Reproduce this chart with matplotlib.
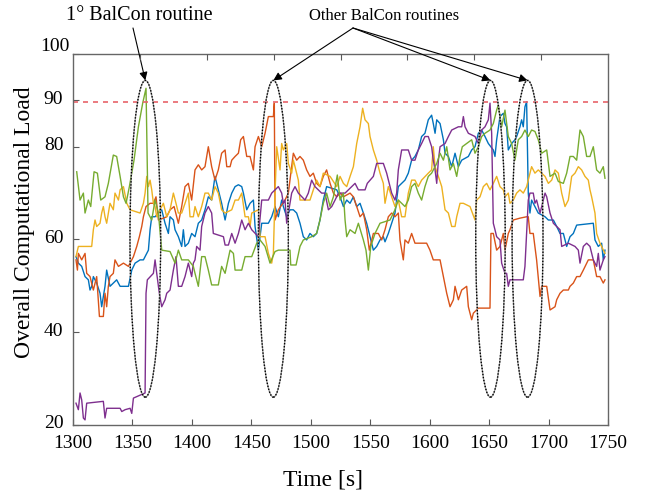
import numpy as np
import matplotlib.pyplot as plt
from matplotlib.patches import Ellipse
import matplotlib.transforms as mtransforms

plt.rcParams['font.family'] = ['Liberation Serif', 'DejaVu Serif']

# series: (time [s], load)
t_blue = [1302.5, 1304.5, 1307.3, 1310.1, 1312.9, 1314.3, 1315.7, 1317.1, 1319.9, 1322.7, 1324.1, 1326.9, 1328.3,
          1331.1, 1333.9, 1336.7, 1339.6, 1346.6, 1349.4, 1352.2, 1356.4, 1359.2, 1362.0, 1363.4, 1364.8, 1366.2,
          1369.0, 1371.8, 1374.6, 1377.4, 1380.2, 1381.6, 1384.4, 1385.8, 1388.6, 1391.4, 1392.8, 1394.2, 1397.0,
          1399.8, 1402.6, 1405.4, 1408.2, 1411.0, 1413.8, 1416.6, 1419.4, 1422.2, 1425.0, 1427.9, 1430.7, 1433.5,
          1436.3, 1439.1, 1441.9, 1443.3, 1446.1, 1448.9, 1451.7, 1453.1, 1455.9, 1458.7, 1464.3, 1467.1, 1469.9,
          1472.7, 1475.5, 1476.9, 1479.7, 1482.5, 1485.3, 1488.1, 1490.9, 1493.7, 1496.5, 1499.3, 1502.1, 1504.9,
          1507.7, 1510.5, 1513.3, 1521.8, 1524.6, 1527.4, 1530.2, 1533.0, 1535.8, 1538.6, 1541.4, 1544.2, 1547.0,
          1549.8, 1552.6, 1555.4, 1558.2, 1561.0, 1562.4, 1565.2, 1568.0, 1570.8, 1573.6, 1579.2, 1582.0, 1584.8,
          1587.6, 1590.4, 1593.2, 1596.0, 1598.8, 1601.6, 1603.0, 1604.5, 1605.9, 1608.7, 1611.5, 1612.9, 1615.7,
          1618.5, 1621.3, 1624.1, 1626.9, 1632.5, 1635.3, 1638.1, 1640.9, 1643.7, 1646.5, 1649.3, 1653.5, 1654.9,
          1656.3, 1659.1, 1661.9, 1663.3, 1664.7, 1666.1, 1668.9, 1671.7, 1673.1, 1675.9, 1677.3, 1678.7, 1680.1,
          1681.5, 1682.9, 1684.3, 1685.7, 1688.5, 1691.3, 1697.0, 1699.8, 1704.0, 1706.8, 1709.6, 1712.4, 1715.2,
          1718.0, 1720.8, 1723.6, 1737.6, 1739.0, 1741.8, 1744.6, 1746.0, 1747.4]
v_blue = [56.3, 54.9, 54.2, 52.0, 51.3, 49.1, 49.9, 52.0, 50.6, 48.4, 45.5, 49.9, 53.4,
          49.9, 50.6, 51.3, 49.9, 49.9, 53.4, 54.9, 55.6, 55.6, 57.0, 57.7, 62.1, 64.9,
          64.9, 65.7, 66.4, 63.5, 61.3, 64.9, 64.2, 62.1, 60.6, 58.5, 62.1, 58.5, 59.2,
          61.3, 60.6, 63.5, 64.2, 66.4, 69.2, 68.5, 73.6, 70.7, 67.8, 64.2, 67.8, 70.0,
          71.4, 71.8, 71.4, 70.0, 66.4, 67.8, 68.5, 62.8, 57.7, 63.5, 63.5, 64.9, 67.1,
          64.9, 68.5, 67.1, 64.9, 66.4, 66.4, 65.7, 63.5, 60.6, 59.9, 61.3, 60.6, 61.3,
          64.2, 68.5, 71.4, 70.7, 69.2, 67.1, 68.5, 67.8, 69.2, 67.1, 67.8, 65.7, 63.5,
          60.6, 57.7, 58.5, 59.9, 60.6, 59.5, 61.3, 63.5, 65.7, 71.4, 72.8, 74.3, 77.1,
          77.9, 79.3, 82.2, 82.9, 85.8, 86.8, 85.0, 82.9, 85.8, 85.0, 81.5, 78.6, 77.9,
          75.7, 78.6, 75.7, 77.1, 77.9, 79.3, 80.0, 82.9, 83.6, 82.2, 80.7, 79.3, 77.9,
          81.5, 86.5, 87.2, 85.0, 84.3, 79.3, 80.7, 81.5, 82.2, 84.3, 85.8, 84.3, 88.6,
          89.7, 70.0, 65.7, 68.5, 67.1, 65.7, 64.9, 64.2, 64.2, 62.8, 61.3, 61.3, 58.5,
          60.6, 61.3, 63.1, 63.5, 59.9, 58.5, 59.2, 55.6, 57.7]

t_red = [1302.5, 1303.7, 1304.5, 1307.3, 1310.1, 1311.5, 1314.3, 1317.1, 1319.9, 1322.2, 1325.5, 1326.9, 1328.3,
         1329.7, 1331.1, 1333.9, 1335.3, 1338.2, 1342.4, 1346.6, 1350.8, 1353.6, 1355.8, 1357.8, 1359.2, 1361.4,
         1364.8, 1367.6, 1369.8, 1371.8, 1376.0, 1378.8, 1381.6, 1385.0, 1387.2, 1388.6, 1391.4, 1394.2, 1397.0,
         1399.8, 1402.6, 1405.4, 1408.2, 1411.0, 1413.8, 1416.6, 1419.4, 1422.2, 1425.0, 1427.9, 1429.3, 1432.1,
         1433.5, 1436.3, 1439.1, 1441.0, 1443.3, 1446.1, 1448.9, 1451.7, 1453.1, 1455.9, 1458.7, 1461.5, 1464.3,
         1468.5, 1469.3, 1469.9, 1472.7, 1478.3, 1481.1, 1483.9, 1485.3, 1488.1, 1490.9, 1493.7, 1496.5, 1499.3,
         1502.1, 1504.9, 1507.7, 1510.5, 1513.3, 1516.2, 1519.0, 1521.8, 1524.6, 1527.4, 1533.0, 1535.8, 1538.6,
         1541.4, 1544.2, 1547.0, 1549.2, 1552.6, 1556.8, 1559.6, 1562.4, 1565.2, 1568.0, 1570.8, 1573.6, 1575.0,
         1577.8, 1579.2, 1582.0, 1584.8, 1587.6, 1597.4, 1600.2, 1603.0, 1608.7, 1611.5, 1614.3, 1617.1, 1619.9,
         1621.3, 1624.1, 1626.9, 1631.1, 1632.5, 1635.3, 1636.7, 1640.9, 1650.7, 1651.5, 1653.5, 1656.3, 1659.1,
         1661.9, 1663.3, 1666.1, 1667.5, 1670.3, 1675.9, 1681.5, 1682.9, 1684.3, 1687.1, 1689.9, 1692.8, 1694.2,
         1698.4, 1701.2, 1705.4, 1706.8, 1709.6, 1712.4, 1716.6, 1718.0, 1720.8, 1723.6, 1726.4, 1729.2, 1733.4,
         1737.6, 1740.4, 1743.2, 1746.0, 1747.4]
v_red = [55.6, 53.4, 57.0, 55.6, 57.0, 52.7, 52.0, 49.1, 52.0, 43.4, 43.4, 48.4, 45.5,
         49.9, 52.0, 52.7, 55.6, 54.2, 54.9, 54.2, 56.3, 58.5, 60.6, 62.8, 64.9, 67.1,
         67.8, 67.8, 69.2, 64.2, 64.6, 64.9, 66.4, 67.1, 64.9, 63.5, 67.1, 71.4, 72.1,
         68.5, 75.0, 76.1, 75.0, 75.7, 80.0, 75.7, 72.8, 75.0, 78.6, 79.3, 75.7, 75.7,
         77.1, 77.9, 78.6, 81.5, 82.2, 77.9, 77.9, 75.0, 80.0, 82.2, 80.0, 82.9, 86.5,
         86.5, 89.4, 64.2, 66.4, 68.5, 70.0, 75.7, 78.6, 77.1, 77.9, 77.1, 75.0, 73.6,
         74.3, 72.1, 71.4, 73.6, 75.0, 72.1, 70.0, 69.2, 70.0, 69.2, 70.0, 69.2, 67.1,
         64.9, 65.7, 62.1, 57.7, 61.3, 61.3, 59.9, 62.1, 64.9, 65.7, 64.9, 65.7, 59.9,
         55.6, 59.9, 59.2, 61.3, 59.2, 59.2, 57.7, 55.6, 55.6, 52.0, 48.4, 45.5, 47.0,
         49.9, 47.0, 49.1, 49.9, 45.5, 42.7, 44.1, 45.2, 45.2, 61.3, 61.3, 57.7, 58.5,
         61.3, 57.7, 61.3, 62.1, 64.2, 64.6, 64.9, 64.9, 61.3, 61.3, 55.6, 47.7, 49.9,
         49.9, 44.8, 45.5, 47.0, 48.4, 49.1, 49.1, 49.9, 50.6, 52.0, 52.0, 53.4, 55.6,
         55.6, 52.0, 52.0, 50.6, 51.3]

t_yellow = [1302.5, 1304.5, 1315.7, 1317.1, 1318.5, 1319.9, 1322.7, 1324.1, 1325.5, 1326.9, 1328.3, 1331.1, 1333.9,
            1335.3, 1338.2, 1339.6, 1342.4, 1345.2, 1348.0, 1356.4, 1359.2, 1360.6, 1362.0, 1363.4, 1364.8, 1366.2,
            1367.6, 1369.0, 1370.4, 1373.2, 1376.0, 1378.8, 1381.6, 1384.4, 1386.6, 1388.6, 1391.4, 1394.2, 1397.0,
            1398.4, 1401.2, 1402.6, 1405.4, 1408.2, 1411.0, 1413.8, 1416.6, 1419.4, 1422.2, 1425.0, 1427.9, 1433.5,
            1436.3, 1439.1, 1441.9, 1444.7, 1447.5, 1448.9, 1450.3, 1455.9, 1457.3, 1461.5, 1464.3, 1467.1, 1468.5,
            1469.9, 1471.3, 1474.1, 1475.5, 1476.9, 1479.7, 1481.1, 1483.9, 1485.3, 1486.7, 1489.5, 1490.9, 1499.3,
            1502.1, 1504.9, 1507.7, 1510.5, 1516.2, 1521.8, 1524.6, 1527.4, 1530.2, 1533.0, 1535.8, 1538.6, 1541.4,
            1543.6, 1545.6, 1548.4, 1549.8, 1552.6, 1555.4, 1558.2, 1561.0, 1562.4, 1565.2, 1568.0, 1570.8, 1573.6,
            1576.4, 1579.2, 1582.0, 1584.8, 1587.6, 1590.4, 1593.2, 1598.8, 1601.6, 1603.0, 1604.5, 1607.3, 1610.1,
            1612.9, 1615.7, 1618.5, 1621.3, 1622.7, 1625.5, 1628.3, 1633.9, 1635.9, 1638.1, 1639.5, 1642.3, 1645.1,
            1647.9, 1650.7, 1653.5, 1656.3, 1659.1, 1661.9, 1663.3, 1666.1, 1667.5, 1670.3, 1673.1, 1675.9, 1678.7,
            1681.5, 1684.3, 1685.7, 1688.5, 1691.3, 1694.2, 1697.0, 1699.8, 1702.6, 1705.4, 1708.2, 1711.0, 1713.8,
            1716.6, 1719.4, 1722.2, 1725.0, 1727.8, 1730.6, 1733.4, 1734.8, 1736.2, 1739.0, 1740.4, 1743.2, 1746.0,
            1747.4]
v_yellow = [56.3, 58.5, 58.5, 62.1, 64.2, 62.8, 63.5, 65.7, 67.1, 64.9, 63.5, 67.8, 66.4,
            70.0, 68.5, 70.7, 71.4, 67.8, 66.4, 65.7, 67.8, 70.0, 73.6, 71.4, 72.8, 70.7,
            67.8, 67.1, 64.9, 66.4, 67.8, 64.9, 66.4, 70.0, 67.8, 65.7, 65.7, 67.8, 70.0,
            64.9, 64.9, 67.1, 64.9, 67.1, 70.0, 70.0, 68.5, 71.4, 70.0, 66.4, 65.7, 66.4,
            68.5, 68.5, 70.0, 64.9, 64.9, 62.8, 65.7, 66.4, 60.6, 60.6, 57.0, 54.9, 57.0,
            70.0, 80.0, 75.0, 80.7, 79.3, 80.7, 76.4, 74.3, 77.1, 75.7, 72.8, 68.5, 68.5,
            70.7, 72.8, 71.4, 74.3, 73.6, 71.4, 73.6, 72.1, 71.4, 73.6, 75.7, 80.7, 84.3,
            88.3, 85.8, 85.0, 82.2, 79.3, 77.1, 74.3, 72.1, 67.8, 71.4, 69.2, 67.1, 68.5,
            64.9, 64.9, 70.0, 72.8, 72.8, 71.4, 72.8, 74.3, 75.0, 80.0, 75.7, 73.6, 71.4,
            66.4, 65.7, 62.8, 62.8, 64.9, 67.8, 67.8, 67.1, 65.7, 64.2, 68.5, 69.2, 71.4,
            72.1, 70.7, 72.1, 73.6, 71.4, 70.7, 69.2, 70.0, 67.8, 68.5, 70.0, 70.7, 70.0,
            71.4, 74.3, 75.7, 74.3, 75.0, 74.3, 73.6, 72.1, 72.8, 75.0, 74.3, 70.0, 67.1,
            68.5, 73.6, 74.3, 75.7, 75.0, 73.6, 72.8, 70.7, 69.2, 65.7, 61.3, 59.2, 57.7,
            57.0]

t_purple = [1302.5, 1304.5, 1305.9, 1307.3, 1308.7, 1310.1, 1311.5, 1325.5, 1326.1, 1326.9, 1328.3, 1339.6, 1341.0,
            1343.8, 1348.0, 1349.4, 1350.8, 1360.6, 1361.4, 1362.5, 1367.6, 1369.0, 1370.4, 1372.6, 1374.6, 1377.4,
            1378.8, 1381.6, 1384.4, 1386.6, 1388.6, 1391.4, 1394.2, 1397.0, 1399.8, 1401.2, 1402.6, 1404.0, 1406.8,
            1408.2, 1411.0, 1413.8, 1416.6, 1418.0, 1426.5, 1427.9, 1430.7, 1433.5, 1436.3, 1439.1, 1441.9, 1444.7,
            1447.5, 1450.3, 1455.9, 1458.7, 1464.3, 1467.1, 1469.9, 1472.7, 1475.5, 1476.9, 1478.3, 1479.7, 1481.1,
            1483.9, 1486.7, 1489.5, 1495.1, 1497.9, 1500.7, 1503.5, 1509.1, 1511.9, 1514.8, 1517.6, 1520.4, 1523.2,
            1528.8, 1534.4, 1537.2, 1540.0, 1545.6, 1547.5, 1552.6, 1555.4, 1561.0, 1563.8, 1566.6, 1568.0, 1570.8,
            1572.2, 1573.6, 1575.0, 1576.4, 1582.0, 1584.8, 1587.6, 1590.4, 1593.2, 1596.0, 1598.8, 1601.6, 1603.0,
            1604.5, 1605.9, 1607.3, 1608.7, 1612.9, 1615.7, 1618.5, 1624.1, 1626.9, 1628.3, 1629.7, 1632.5, 1638.1,
            1640.9, 1643.7, 1646.5, 1649.3, 1650.7, 1652.1, 1653.5, 1654.9, 1656.3, 1659.1, 1660.5, 1663.3, 1664.7,
            1666.1, 1667.5, 1678.7, 1680.1, 1681.5, 1682.9, 1684.3, 1687.1, 1688.5, 1689.9, 1691.3, 1692.8, 1694.2,
            1697.0, 1698.4, 1701.2, 1704.0, 1706.8, 1709.6, 1711.0, 1716.6, 1722.2, 1725.0, 1726.4, 1729.2, 1732.0,
            1734.8, 1737.6, 1740.4, 1741.8, 1743.2, 1746.0, 1747.4]
v_purple = [24.7, 23.3, 26.9, 25.4, 21.5, 21.1, 24.7, 25.1, 23.6, 21.5, 23.6, 23.6, 22.9,
            23.3, 23.6, 22.5, 25.8, 26.9, 48.4, 51.3, 52.7, 55.6, 52.7, 48.4, 45.5, 47.0,
            48.4, 49.1, 53.4, 56.3, 49.9, 49.9, 52.0, 54.9, 52.0, 54.9, 55.6, 58.5, 57.7,
            62.8, 65.7, 67.1, 65.7, 61.3, 60.6, 58.8, 58.8, 61.3, 59.2, 61.3, 64.2, 62.1,
            63.5, 62.1, 60.6, 68.5, 68.5, 70.0, 70.7, 71.4, 70.0, 67.8, 68.5, 63.5, 65.7,
            70.0, 71.4, 70.0, 68.5, 70.0, 72.8, 71.4, 70.0, 70.0, 66.4, 67.1, 68.5, 70.0,
            70.0, 71.4, 72.1, 70.7, 70.7, 72.1, 73.6, 76.4, 76.4, 74.3, 71.4, 70.0, 68.5,
            70.0, 75.0, 77.1, 79.3, 79.3, 77.1, 77.1, 79.3, 80.7, 82.2, 82.2, 80.0, 77.1,
            75.0, 72.1, 77.1, 80.0, 80.7, 82.2, 83.6, 84.3, 84.3, 86.5, 84.3, 82.9, 82.2,
            80.7, 83.6, 84.3, 85.8, 89.4, 82.9, 63.5, 62.1, 60.6, 59.9, 54.9, 52.7, 52.7,
            49.9, 51.3, 51.3, 54.2, 61.3, 68.5, 70.0, 70.0, 67.8, 68.5, 67.1, 65.7, 67.1,
            70.0, 69.2, 65.7, 63.5, 62.8, 62.1, 58.5, 59.2, 58.5, 57.7, 54.9, 58.5, 59.2,
            58.5, 55.6, 54.2, 57.0, 53.4, 55.6, 56.3]

t_green = [1303.1, 1305.9, 1308.7, 1310.1, 1312.9, 1314.9, 1317.7, 1320.5, 1323.3, 1326.9, 1329.7, 1331.7, 1333.9,
           1336.7, 1339.6, 1342.4, 1344.6, 1347.4, 1351.3, 1355.0, 1358.6, 1361.4, 1363.1, 1366.2, 1369.0, 1371.8,
           1374.6, 1381.6, 1385.8, 1388.6, 1391.4, 1397.0, 1401.2, 1402.6, 1405.4, 1408.2, 1411.0, 1413.8, 1416.6,
           1422.2, 1425.0, 1427.9, 1432.1, 1434.9, 1436.3, 1441.9, 1444.7, 1450.3, 1454.5, 1457.3, 1461.5, 1465.7,
           1469.9, 1472.7, 1482.5, 1483.1, 1487.6, 1490.9, 1493.7, 1500.7, 1504.9, 1507.7, 1510.5, 1513.3, 1516.2,
           1519.0, 1522.3, 1524.6, 1527.4, 1528.8, 1530.2, 1533.0, 1537.2, 1540.0, 1544.2, 1546.4, 1548.4, 1550.4,
           1554.0, 1558.2, 1566.6, 1570.8, 1573.6, 1576.4, 1579.2, 1582.0, 1584.8, 1587.6, 1590.4, 1593.2, 1596.0,
           1598.8, 1601.6, 1605.9, 1608.7, 1611.5, 1614.3, 1617.1, 1619.9, 1622.7, 1625.5, 1627.4, 1631.1, 1635.3,
           1638.1, 1640.9, 1643.7, 1646.5, 1650.7, 1653.5, 1656.3, 1657.7, 1660.5, 1663.3, 1666.1, 1668.9, 1671.7,
           1674.5, 1677.3, 1680.1, 1682.9, 1685.7, 1688.5, 1691.3, 1694.2, 1698.4, 1701.2, 1705.4, 1708.2, 1712.4,
           1715.2, 1718.0, 1720.8, 1723.6, 1726.4, 1729.2, 1732.0, 1734.8, 1737.6, 1740.4, 1743.2, 1746.0, 1747.4]
v_green = [74.6, 68.5, 70.0, 65.7, 68.5, 67.1, 74.6, 74.3, 68.5, 69.2, 72.1, 75.0, 78.2,
           77.9, 73.6, 69.2, 67.8, 71.4, 77.1, 84.3, 89.4, 92.6, 65.7, 64.2, 68.5, 65.7,
           57.7, 57.4, 54.9, 57.7, 55.6, 55.6, 54.2, 52.7, 49.9, 56.3, 56.3, 53.4, 50.2,
           50.2, 54.2, 52.7, 57.7, 57.0, 53.4, 53.4, 56.3, 56.3, 59.2, 59.9, 58.5, 54.9,
           57.4, 57.7, 57.7, 54.5, 54.5, 58.5, 59.9, 60.6, 61.3, 64.2, 67.8, 70.0, 67.1,
           69.2, 73.9, 68.5, 70.0, 64.2, 60.6, 62.1, 61.3, 63.5, 59.9, 57.7, 53.4, 58.5,
           61.3, 63.5, 64.2, 66.4, 68.5, 67.8, 67.1, 68.5, 71.4, 72.1, 70.0, 68.5, 71.4,
           73.6, 74.3, 76.4, 78.6, 77.1, 80.0, 75.0, 76.4, 73.6, 77.9, 80.0, 80.7, 81.5,
           78.6, 80.0, 82.2, 82.9, 83.6, 85.0, 87.9, 89.0, 84.3, 87.9, 82.2, 80.7, 77.1,
           81.5, 82.2, 83.6, 82.2, 83.6, 83.3, 81.5, 78.6, 79.3, 73.6, 74.3, 72.5, 72.1,
           74.3, 77.9, 77.9, 77.1, 83.6, 82.2, 77.9, 77.9, 80.0, 75.0, 74.3, 75.7, 73.2]

threshold = 89.6
# BalCon routines: centre time, width [s]
routine_t = [1360.8, 1468.5, 1651.1, 1682.3]
routine_w = [25.8, 25.2, 24.8, 26.0]
routine_lo, routine_hi = 26.0, 94.3

yticks = [20, 40, 60, 80, 90, 100]
xticks = [1300, 1350, 1400, 1450, 1500, 1550, 1600, 1650, 1700, 1750]

fig = plt.figure(figsize=(6.52, 4.97), dpi=100)
ax = fig.add_axes([0.112, 0.1449, 0.8206, 0.7465])

ax.plot(t_blue, v_blue, color='#0072BD', lw=1.0)
ax.plot(t_red, v_red, color='#D95319', lw=1.0)
ax.plot(t_yellow, v_yellow, color='#EDB120', lw=1.0)
ax.plot(t_purple, v_purple, color='#7E2F8E', lw=1.0)
ax.plot(t_green, v_green, color='#77AC30', lw=1.0)

ax.axhline(threshold, color='#E8636A', lw=1.2, ls=(0, (3, 3)))

yc = (routine_lo + routine_hi) / 2
for tc, w in zip(routine_t, routine_w):
    ax.add_patch(Ellipse((tc, yc), w, routine_hi - routine_lo, fill=False,
                         edgecolor='0.6', lw=0.9, zorder=4))
    ax.add_patch(Ellipse((tc, yc), w, routine_hi - routine_lo, fill=False,
                         edgecolor='black', lw=1.0, ls=(0, (1, 1.2)), zorder=5))

ax.set_xlim(1300, 1750)
ax.set_ylim(20, 100)
ax.set_xticks(xticks)
ax.set_yticks(yticks)
ax.tick_params(direction='in', length=4, width=0.8, color='0.35', labelsize=14, pad=7)
for s in ax.spines.values():
    s.set_color('0.4')
    s.set_linewidth(1.0)

# tick labels sit a little high, like in the original
off = mtransforms.ScaledTranslation(0, 3 / 100, fig.dpi_scale_trans)
for lab in ax.get_yticklabels():
    lab.set_transform(lab.get_transform() + off)
ax.get_yticklabels()[-1].set_transform(ax.get_yticklabels()[-1].get_transform()
                                       + mtransforms.ScaledTranslation(6 / 100, 6 / 100, fig.dpi_scale_trans))

# top ticks on 8 equal divisions
ax_top = ax.twiny()
ax_top.set_xlim(0, 8)
ax_top.set_xticks(range(1, 8))
ax_top.tick_params(direction='in', length=4, width=0.8, color='0.35', labeltop=False)
for s in ax_top.spines.values():
    s.set_visible(False)

ax.set_xlabel('Time [s]', fontsize=17)
ax.xaxis.set_label_coords(0.468, -0.121)
ax.set_ylabel('Overall Computational Load', fontsize=17)
ax.yaxis.set_label_coords(-0.071, 0.547)

arrow = dict(arrowstyle='-|>', color='black', lw=0.8, mutation_scale=12, shrinkA=0, shrinkB=0)
fig.text(139 / 652, 1 - 15 / 497, '1° BalCon routine', fontsize=14.5, ha='center', va='center')
ax.annotate('', xy=(routine_t[0], routine_hi), xytext=(133, 497 - 28), textcoords='figure pixels',
            arrowprops=arrow, annotation_clip=False)
fig.text(384 / 652, 1 - 16 / 497, 'Other BalCon routines', fontsize=12, ha='center', va='center')
for tc in routine_t[1:]:
    ax.annotate('', xy=(tc, routine_hi), xytext=(353, 497 - 28), textcoords='figure pixels',
                arrowprops=arrow, annotation_clip=False)

fig.savefig('out.png', dpi=100)
